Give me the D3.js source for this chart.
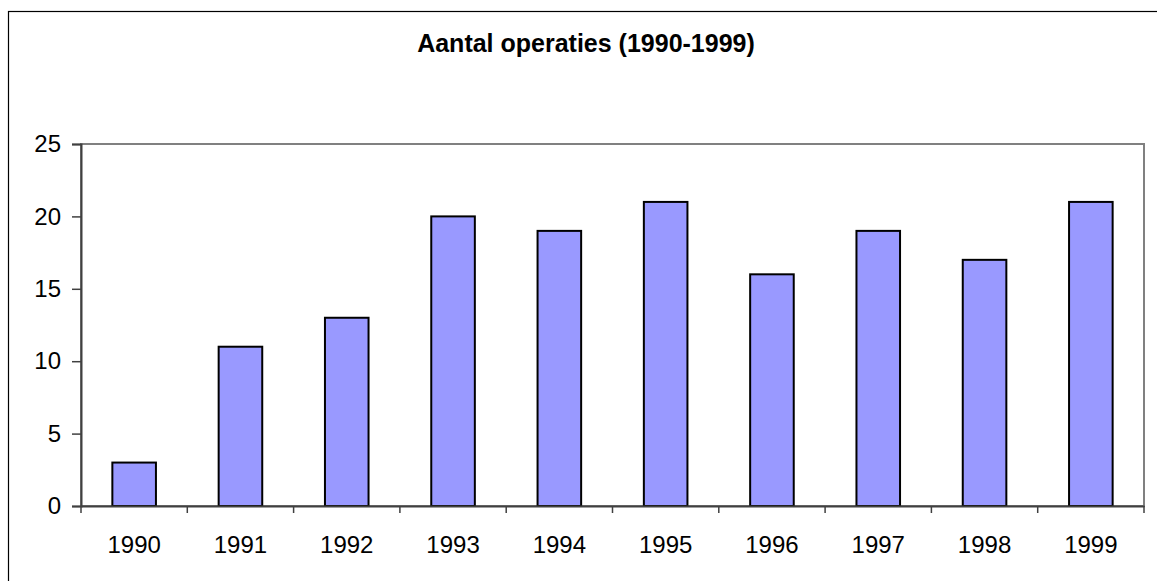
<!DOCTYPE html>
<html>
<head>
<meta charset="utf-8">
<script src="https://cdn.jsdelivr.net/npm/d3@7"></script>
<style>
  body { margin: 0; background: #fff; }
  svg { display: block; font-family: "Liberation Sans", Arial, sans-serif; }
</style>
</head>
<body>
<div id="chart"></div>
<script>
const years = ["1990", "1991", "1992", "1993", "1994", "1995", "1996", "1997", "1998", "1999"];
const operaties = [3, 11, 13, 20, 19, 21, 16, 19, 17, 21];
const yTicks = [0, 5, 10, 15, 20, 25];
const title = "Aantal operaties (1990-1999)";

const width = 1157;
const height = 581;
const plot = { left: 81, top: 144, right: 1144, bottom: 506 };

const svg = d3.select("#chart")
  .append("svg")
  .attr("width", width)
  .attr("height", height);

// outer chart frame (cropped at right/bottom)
svg.append("rect")
  .attr("x", 8.5)
  .attr("y", 11.5)
  .attr("width", 1200)
  .attr("height", 700)
  .attr("fill", "none")
  .attr("stroke", "#000")
  .attr("stroke-width", 1.2);

svg.append("text")
  .attr("x", 586)
  .attr("y", 52)
  .attr("text-anchor", "middle")
  .style("font-size", "25px")
  .style("font-weight", "bold")
  .text(title);

const x = d3.scaleBand()
  .domain(years)
  .range([plot.left, plot.right])
  .paddingInner(0.59)
  .paddingOuter(0.295);

const xCat = d3.scaleBand()
  .domain(years)
  .range([plot.left, plot.right]);

const y = d3.scaleLinear()
  .domain([0, 25])
  .range([plot.bottom, plot.top]);

// plot area border
svg.append("rect")
  .attr("x", plot.left)
  .attr("y", plot.top)
  .attr("width", plot.right - plot.left)
  .attr("height", plot.bottom - plot.top)
  .attr("fill", "#fff")
  .attr("stroke", "#808080")
  .attr("stroke-width", 2);

// bars
svg.selectAll("rect.bar")
  .data(operaties)
  .enter()
  .append("rect")
  .attr("class", "bar")
  .attr("x", (d, i) => x(years[i]))
  .attr("y", d => y(d))
  .attr("width", x.bandwidth())
  .attr("height", d => y(0) - y(d))
  .attr("fill", "#9999ff")
  .attr("stroke", "#000")
  .attr("stroke-width", 2);

// y axis
const yAxis = svg.append("g")
  .attr("transform", `translate(${plot.left},0)`)
  .call(d3.axisLeft(y).tickValues(yTicks).tickSize(9).tickPadding(11));
yAxis.select(".domain").attr("stroke", "#404040").attr("stroke-width", 2);
yAxis.selectAll(".tick line").attr("stroke", "#404040").attr("stroke-width", 1.5);
yAxis.selectAll(".tick text")
  .style("font-size", "24px")
  .style("font-family", "'Liberation Sans', Arial, sans-serif")
  .attr("fill", "#000");

// x axis: ticks at category boundaries
const xAxis = svg.append("g")
  .attr("transform", `translate(0,${plot.bottom})`)
  .call(d3.axisBottom(xCat).tickSize(0).tickPadding(30));
xAxis.select(".domain").attr("stroke", "#404040").attr("stroke-width", 2);
xAxis.selectAll(".tick text")
  .style("font-size", "24px")
  .style("font-family", "'Liberation Sans', Arial, sans-serif")
  .attr("fill", "#000");

const bounds = years.map(d => xCat(d)).concat([plot.right]);
xAxis.selectAll("line.bound")
  .data(bounds)
  .enter()
  .append("line")
  .attr("class", "bound")
  .attr("x1", d => d)
  .attr("x2", d => d)
  .attr("y1", 0)
  .attr("y2", 7)
  .attr("stroke", "#404040")
  .attr("stroke-width", 1.5);
</script>
</body>
</html>
